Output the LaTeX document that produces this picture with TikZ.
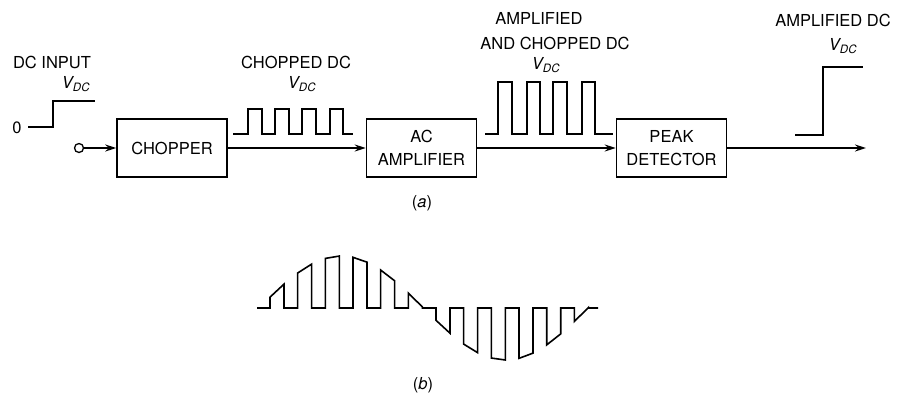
\documentclass[tikz,border=0pt]{standalone}
\usepackage{fontspec}
\setmainfont{TeX Gyre Heros}
\usetikzlibrary{arrows.meta}
\begin{document}
\begin{tikzpicture}[x=1pt,y=-1pt,
  every node/.style={font=\fontsize{16.5}{19}\selectfont},
  blk/.style={draw,line width=1.5pt,minimum width=110pt,minimum height=58pt,inner sep=0pt,align=center},
  sig/.style={line width=1.6pt,-{Stealth[length=11pt,width=7pt]}},
  wave/.style={line width=1.6pt,line join=miter},
  lbl/.style={inner sep=0pt,align=center}]
\useasboundingbox (0,0) rectangle (899,400);
% blocks
\node[draw,circle,line width=1.3pt,inner sep=0pt,minimum size=9pt] (in) at (79,148) {};
\node[blk] (chop) at (172,148) {CHOPPER};
\node[blk] (amp) at (421.5,148) {AC\\[4pt]AMPLIFIER};
\node[blk] (peak) at (671.5,148) {PEAK\\[4pt]DETECTOR};
\coordinate (out) at (866,148);
\draw[sig] (in) -- (chop);
\draw[sig] (chop) -- (amp);
\draw[sig] (amp) -- (peak);
\draw[sig] (peak) -- (out);
% DC input
\node[lbl] (tin) at (52,62) {DC INPUT};
\node[lbl] (vin) at (76,84) {\itshape V\textsubscript{DC}};
\node[lbl] (zero) at (17,128) {0};
\draw[wave] (28,127) -- (53,127) -- (53,101) -- (95,101);
% chopped DC
\node[lbl] (tch) at (296,62) {CHOPPED DC};
\node[lbl] (vch) at (302,84) {\itshape V\textsubscript{DC}};
\draw[wave] (233,134) -- (248,134) -- (248,109) -- (262,109) -- (262,134)
  -- (275,134) -- (275,109) -- (289,109) -- (289,134)
  -- (302,134) -- (302,109) -- (316,109) -- (316,134)
  -- (330,134) -- (330,109) -- (343,109) -- (343,134) -- (353,134);
% amplified and chopped
\node[lbl] (tam1) at (539,18) {AMPLIFIED};
\node[lbl] (tam2) at (555,43) {AND CHOPPED DC};
\node[lbl] (vam) at (546,65) {\itshape V\textsubscript{DC}};
\draw[wave] (485,134) -- (498,134) -- (498,82) -- (512,82) -- (512,134)
  -- (527,134) -- (527,82) -- (540,82) -- (540,134)
  -- (553,134) -- (553,82) -- (567,82) -- (567,134)
  -- (582,134) -- (582,82) -- (595,82) -- (595,134) -- (613,134);
% amplified DC
\node[lbl] (tad) at (833,20) {AMPLIFIED DC};
\node[lbl] (vad) at (843,46) {\itshape V\textsubscript{DC}};
\draw[wave] (795,135) -- (823,135) -- (823,67) -- (863,67);
\node[lbl] (capa) at (422,203) {(\textit{a})};
% (b) chopped sine
\draw[wave] (257,308)
  \foreach \k [evaluate=\k as \s using {270+27.67*\k},
               evaluate=\k as \e using {284+27.67*\k},
               evaluate=\k as \ys using {308-52*sin((11+27.67*\k)/164.5*180)},
               evaluate=\k as \ye using {308-52*sin((25+27.67*\k)/164.5*180)}] in {0,...,11}
  { -- (\s,308) -- (\s,\ys) -- (\e,\ye) -- (\e,308) } -- (598,308);
\node[lbl] (capb) at (423,385) {(\textit{b})};
\end{tikzpicture}
\end{document}
